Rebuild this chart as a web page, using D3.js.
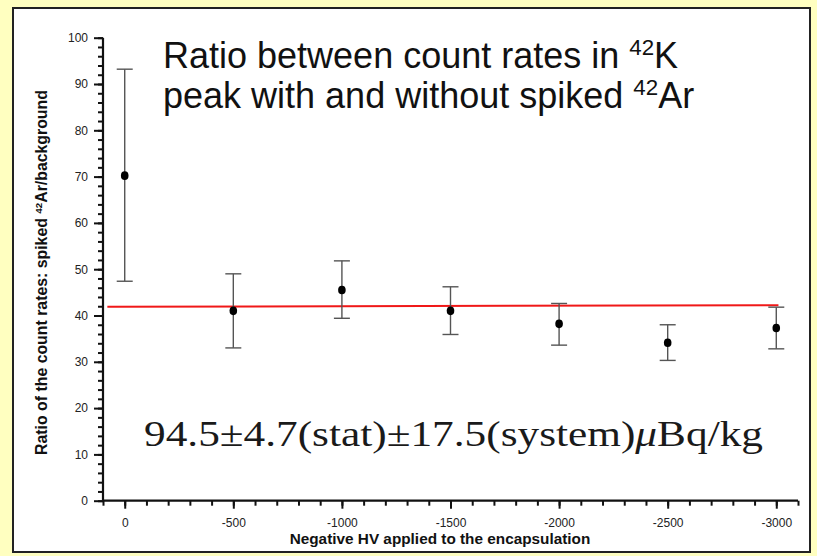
<!DOCTYPE html>
<html>
<head>
<meta charset="utf-8">
<script src="https://cdn.jsdelivr.net/npm/d3@7"></script>
<style>
  html, body { margin: 0; padding: 0; background: #ffffc0; }
  svg { display: block; }
  .tick text { font-family: Arial, "Liberation Sans", sans-serif; font-size: 12px; fill: #222; }
</style>
</head>
<body>
<svg width="817" height="556"></svg>
<script>
var hvValues = [0, -500, -1000, -1500, -2000, -2500, -3000];
var ratios   = [70.2, 41.0, 45.5, 41.0, 38.2, 34.1, 37.3];
var errLow   = [47.4, 33.0, 39.4, 35.9, 33.6, 30.3, 32.8];
var errHigh  = [93.2, 49.0, 51.8, 46.2, 42.6, 38.0, 41.8];

// constant fit (red line)
var fitHV    = [80, -3010];
var fitRatio = [41.9, 42.2];

var xMajor = [0, -500, -1000, -1500, -2000, -2500, -3000];
var xMinor = d3.range(100, -3101, -100);
var yMajor = [0, 10, 20, 30, 40, 50, 60, 70, 80, 90, 100];
var yMinor = d3.range(0, 101, 2);

var svg = d3.select("svg");

// white panel with dark frame
svg.append("rect")
    .attr("x", 13).attr("y", 8)
    .attr("width", 797).attr("height", 544)
    .attr("fill", "#fff")
    .attr("stroke", "#222")
    .attr("stroke-width", 2);

var x = d3.scaleLinear().domain([100, -3100]).range([103, 798]);
var y = d3.scaleLinear().domain([0, 100]).range([500.7, 37.7]);

function fitWidth(sel, target) {
  var w = sel.node().getComputedTextLength();
  var fs = parseFloat(sel.style("font-size"));
  sel.style("font-size", (fs * target / w) + "px");
}

// minor ticks first, then major with labels
svg.append("g")
    .attr("transform", "translate(0," + y(0) + ")")
    .call(d3.axisBottom(x).tickValues(xMinor).tickSize(5).tickFormat(""))
    .call(function(g) { g.select(".domain").remove(); })
    .selectAll("line").attr("stroke", "#111").attr("stroke-width", 2);

var xAxis = svg.append("g")
    .attr("transform", "translate(0," + y(0) + ")")
    .call(d3.axisBottom(x).tickValues(xMajor).tickSize(8).tickPadding(10)
      .tickFormat(function(d) { return String(d); }));
xAxis.select(".domain").attr("stroke", "#111").attr("stroke-width", 2.2).attr("d", "M" + x(100) + ",0H" + x(-3100));
xAxis.selectAll("line").attr("stroke", "#111").attr("stroke-width", 2);

svg.append("g")
    .attr("transform", "translate(" + x(100) + ",0)")
    .call(d3.axisLeft(y).tickValues(yMinor).tickSize(5).tickFormat(""))
    .call(function(g) { g.select(".domain").remove(); })
    .selectAll("line").attr("stroke", "#111").attr("stroke-width", 2);

var yAxis = svg.append("g")
    .attr("transform", "translate(" + x(100) + ",0)")
    .call(d3.axisLeft(y).tickValues(yMajor).tickSize(9).tickPadding(6));
yAxis.select(".domain").attr("stroke", "#111").attr("stroke-width", 2.2).attr("d", "M0," + y(100) + "V" + y(0));
yAxis.selectAll("line").attr("stroke", "#111").attr("stroke-width", 2);

// fit line
svg.append("line")
    .attr("x1", x(fitHV[0])).attr("y1", y(fitRatio[0]))
    .attr("x2", x(fitHV[1])).attr("y2", y(fitRatio[1]))
    .attr("stroke", "#f01818")
    .attr("stroke-width", 2);

// error bars
var bars = svg.append("g").attr("stroke", "#555").attr("stroke-width", 1.4);
hvValues.forEach(function(v, i) {
  var cx = x(v);
  bars.append("line").attr("x1", cx).attr("x2", cx).attr("y1", y(errHigh[i])).attr("y2", y(errLow[i]));
  bars.append("line").attr("x1", cx - 8).attr("x2", cx + 8).attr("y1", y(errHigh[i])).attr("y2", y(errHigh[i]));
  bars.append("line").attr("x1", cx - 8).attr("x2", cx + 8).attr("y1", y(errLow[i])).attr("y2", y(errLow[i]));
});

svg.append("g").selectAll("ellipse")
  .data(hvValues)
  .enter().append("ellipse")
    .attr("cx", function(d) { return x(d); })
    .attr("cy", function(d, i) { return y(ratios[i]); })
    .attr("rx", 3.8).attr("ry", 4.3)
    .attr("fill", "#000");

// axis titles
var xt = svg.append("text")
    .attr("x", 440).attr("y", 544)
    .attr("text-anchor", "middle")
    .style("font-family", "Arial, 'Liberation Sans', sans-serif")
    .style("font-weight", "bold").style("font-size", "13px")
    .attr("fill", "#111")
    .text("Negative HV applied to the encapsulation");
fitWidth(xt, 301);

var yt = svg.append("text")
    .attr("transform", "translate(47,272.5) rotate(-90)")
    .attr("text-anchor", "middle")
    .style("font-family", "Arial, 'Liberation Sans', sans-serif")
    .style("font-weight", "bold").style("font-size", "12.5px")
    .attr("fill", "#111");
yt.append("tspan").text("Ratio of the count rates: spiked ");
yt.append("tspan").attr("dy", -5).style("font-size", "0.62em").text("42");
yt.append("tspan").attr("dy", 5).text("Ar/background");
fitWidth(yt, 365);

// title, two lines
var titleLines = [
  ["Ratio between count rates in ", "42", "K"],
  ["peak with and without spiked ", "42", "Ar"]
];
var titleY = [68, 108];
titleLines.forEach(function(parts, i) {
  var t = svg.append("text")
      .attr("x", 163).attr("y", titleY[i])
      .style("font-family", "Arial, 'Liberation Sans', sans-serif")
      .style("font-size", "36px")
      .attr("fill", "#111");
  t.append("tspan").text(parts[0]);
  t.append("tspan").attr("dy", -13).style("font-size", "0.62em").text(parts[1]);
  t.append("tspan").attr("dy", 13).text(parts[2]);
});

// result in latex-like serif, stretched to the width of the original
var res = svg.append("text")
    .attr("x", 144).attr("y", 446)
    .attr("textLength", 619)
    .attr("lengthAdjust", "spacingAndGlyphs")
    .style("font-family", "'Liberation Serif', 'DejaVu Serif', serif")
    .style("font-size", "36px")
    .attr("fill", "#1a1a1a");
res.append("tspan").text("94.5\u00b14.7(stat)\u00b117.5(system)");
res.append("tspan").style("font-style", "italic").text("\u03bc");
res.append("tspan").text("Bq/kg");
</script>
</body>
</html>
